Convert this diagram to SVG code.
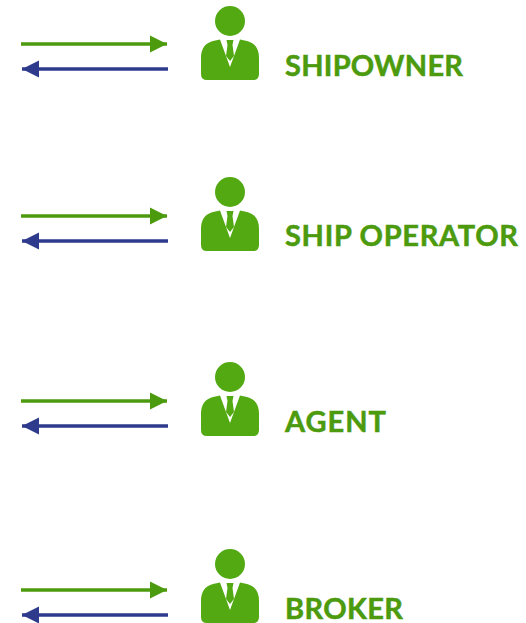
<svg xmlns="http://www.w3.org/2000/svg" width="526" height="623" viewBox="0 0 526 623">
<style>
.fw{stroke:#4c9a0e;stroke-width:3.5;fill:none;marker-end:url(#ag)}
.bk{stroke:#2e3a8c;stroke-width:3.5;fill:none;marker-end:url(#ab)}
.lbl{font-family:Lato,"Liberation Sans",sans-serif;font-weight:700;font-size:29px;fill:#4c9a0e;stroke:#4c9a0e;stroke-width:.5px}
.ic{fill:#52a912}
</style>
<defs>
<marker id="ag" markerUnits="userSpaceOnUse" markerWidth="18" markerHeight="18" refX="17" refY="9" orient="auto"><path d="M0 0.5L17 9L0 17.500Z" fill="#4c9a0e"/></marker>
<marker id="ab" markerUnits="userSpaceOnUse" markerWidth="18" markerHeight="18" refX="17" refY="9" orient="auto"><path d="M0 0.5L17 9L0 17.500Z" fill="#2e3a8c"/></marker>
<g id="person">
<circle class="ic" cx="230" cy="21" r="15"/>
<path class="ic" d="M220 39.500L230 67L240 39.500L247 41Q259 44 259 58V74Q259 80 253 80H207Q201 80 201 74V58Q201 44 213 41Z"/>
<path class="ic" d="M226.500 40H233.500L232.500 45L234 56L230 61L226 56L227.500 45Z"/>
</g>
</defs>
<g id="connectors">
<path class="fw" d="M21 44H167"/><path class="bk" d="M168 69H22"/>
<path class="fw" d="M21 216H167"/><path class="bk" d="M168 241H22"/>
<path class="fw" d="M21 401H167"/><path class="bk" d="M168 426H22"/>
<path class="fw" d="M21 590H167"/><path class="bk" d="M168 615H22"/>
</g>
<g id="shipowner"><use href="#person"/><text class="lbl" x="285" y="76" textLength="178">SHIPOWNER</text></g>
<g id="ship-operator"><use href="#person" y="171"/><text class="lbl" x="285" y="246" textLength="233">SHIP OPERATOR</text></g>
<g id="agent"><use href="#person" y="356"/><text class="lbl" x="285" y="432" textLength="101">AGENT</text></g>
<g id="broker"><use href="#person" y="543"/><text class="lbl" x="285" y="619" textLength="118">BROKER</text></g>
</svg>
